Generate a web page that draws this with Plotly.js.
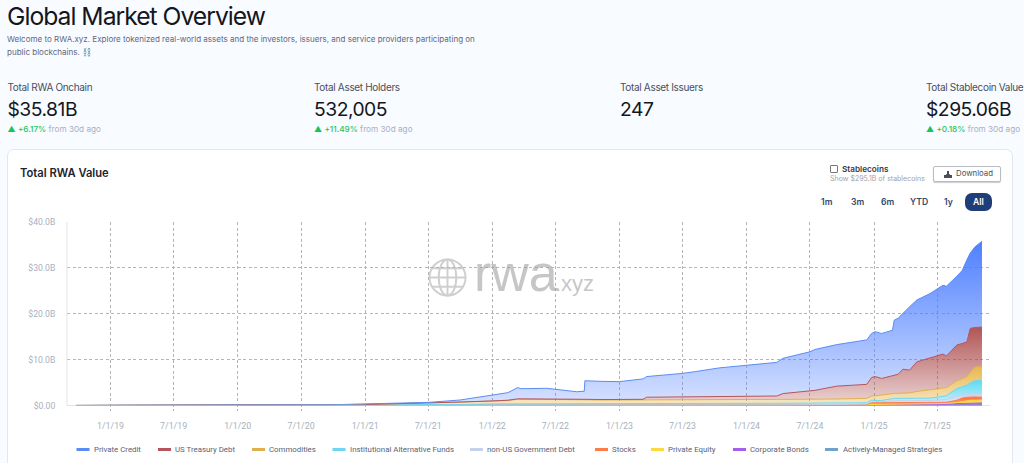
<!DOCTYPE html>
<html><head><meta charset="utf-8">
<script src="https://cdn.plot.ly/plotly-3.0.1.min.js"></script>
<style>
html,body{margin:0;padding:0;width:1024px;height:463px;overflow:hidden;background:#f8fbff;font-family:Inter,sans-serif;}
.a{position:absolute;white-space:nowrap;}
#card{position:absolute;left:7px;top:149px;width:1006px;height:340px;background:#fff;border:1px solid #e3e6ec;border-radius:7px;box-sizing:border-box;}
#chart{position:absolute;left:0;top:0;width:1024px;height:463px;}
.lab{font-size:10px;color:#4a4f5c;top:81px;letter-spacing:-.33px;}
.val{font-size:19.3px;color:#14161c;top:96.500px;letter-spacing:-.5px;}
.chg{font-size:8.2px;top:123.500px;color:#a9afbf;}
.chg b{font-weight:500;color:#22c55e;}
.chg i{font-style:normal;color:#16c55a;font-size:8px;}
.rb{font-size:8.6px;font-weight:600;color:#33466e;top:197px;}
</style></head><body>
<div id="card"></div>
<div class="a" style="left:7px;top:0px;font-size:24.7px;letter-spacing:-1px;color:#14161c;line-height:32px;">Global Market Overview</div>
<div class="a" style="left:7px;top:33px;font-size:8.03px;color:#5f6880;line-height:13px;">Welcome to RWA.xyz. Explore tokenized real-world assets and the investors, issuers, and service providers participating on<br>public blockchains. ⛓️</div>
<div class="a lab" style="left:7.500px">Total RWA Onchain</div><div class="a val" style="left:7.500px">$35.81B</div><div class="a chg" style="left:7.500px"><i>▲</i> <b>+6.17%</b> from 30d ago</div>
<div class="a lab" style="left:314px">Total Asset Holders</div><div class="a val" style="left:314px">532,005</div><div class="a chg" style="left:314px"><i>▲</i> <b>+11.49%</b> from 30d ago</div>
<div class="a lab" style="left:620px">Total Asset Issuers</div><div class="a val" style="left:620px">247</div>
<div class="a lab" style="left:926px">Total Stablecoin Value</div><div class="a val" style="left:926px">$295.06B</div><div class="a chg" style="left:926px"><i>▲</i> <b>+0.18%</b> from 30d ago</div>
<div class="a" style="left:830px;top:165px;width:6px;height:6px;border:1px solid #777;border-radius:1px;background:#fff;"></div>
<div class="a" style="left:842px;top:164px;font-size:8.2px;font-weight:600;color:#33384a;">Stablecoins</div>
<div class="a" style="left:830px;top:174px;font-size:7px;color:#a0a3ab;">Show $295.1B of stablecoins</div>
<div class="a" style="left:933px;top:166px;width:68px;height:16px;box-sizing:border-box;border:1px solid #b9bcc4;border-radius:2px;background:#fff;box-shadow:0 1px 1px #ccc;font-size:7.8px;color:#4a4f5c;line-height:13px;padding-left:22px;">Download<svg style="position:absolute;left:10px;top:3px" width="8" height="8" viewBox="0 0 8 8"><path d="M0 5h8v3H0z M3 1h2v3h1.500L4 6 1.500 4H3z" fill="#4a4f5c"/></svg></div>
<div class="a rb" style="left:821px">1m</div><div class="a rb" style="left:851px">3m</div><div class="a rb" style="left:881px">6m</div><div class="a rb" style="left:910px">YTD</div><div class="a rb" style="left:944px">1y</div>
<div class="a" style="left:965px;top:193px;width:27px;height:18px;background:#1f3d78;border-radius:7px;color:#fff;font-size:8.6px;font-weight:600;text-align:center;line-height:18px;">All</div>
<div id="chart"></div>
<script>
const dates=['2018-09-24','2019-01-01','2019-07-01','2020-01-01','2020-07-01','2020-10-01','2021-01-01','2021-04-01','2021-07-01','2021-10-01','2022-01-01','2022-01-25','2022-02-15','2022-03-15','2022-03-25','2022-06-06','2022-08-31','2022-09-22','2022-09-24','2022-11-15','2023-01-01','2023-03-10','2023-03-20','2023-07-01','2023-08-01','2023-08-08','2023-10-15','2024-01-01','2024-02-08','2024-03-28','2024-04-15','2024-07-01','2024-07-15','2024-09-16','2024-12-11','2024-12-25','2025-01-04','2025-01-23','2025-02-23','2025-02-28','2025-03-11','2025-03-25','2025-04-13','2025-05-04','2025-06-11','2025-07-18','2025-07-28','2025-08-27','2025-09-11','2025-09-25','2025-10-04','2025-10-18','2025-11-07'];
const N=null;
const privateCredit=[N,N,N,N,N,.02,.12,.15,.15,.45,1.3,1.6,1.65,2.45,2.21,2.25,1.6,1.75,4.05,3.95,3.9,4.45,4.5,5.1,5.25,5.45,6.2,6.73,6.93,7.33,7.7,8.5,8.9,9.05,9.7,9.6,9.8,9.8,9.9,12.0,12.2,12.2,13.8,13.5,14.0,15.0,15.2,15.0,15.9,17.9,16.4,17.6,18.7];
const usTreasuryDebt=[N,N,N,N,N,N,N,N,N,N,.05,.05,.05,.08,.08,.1,.1,.1,.1,.1,.1,.15,.55,.6,.65,.65,.7,.73,.73,.73,1.26,1.83,1.93,2.8,3.05,4.03,4.2,3.6,3.85,3.95,4.15,5.25,4.95,6.45,7.0,7.5,6.9,7.8,7.7,7.6,9.6,8.6,8.65];
const commodities=[N,N,N,.01,.02,.08,.15,.3,.4,.55,.6,.65,.72,.95,.95,.95,.85,.8,.8,.75,.75,.75,.8,.85,.85,.85,.85,.85,.85,.85,.85,.85,.85,.9,.95,.87,1.0,1.2,1.1,1.1,1.1,1.1,1.2,1.5,1.8,1.7,1.75,1.7,1.7,1.85,2.3,3.0,2.9];
const institutionalAltFunds=[.01,.02,.03,.03,.05,.06,.08,.1,.12,.2,.35,.35,.38,.42,.42,.45,.45,.45,.35,.35,.35,.35,.35,.35,.35,.35,.35,.35,.35,.35,.35,.35,.35,.35,.3,.3,.25,.25,.55,.55,.55,.5,.5,.5,.5,.75,.85,1.6,1.8,2.05,2.4,2.8,2.9];
const nonUsGovDebt=[N,N,N,N,N,N,N,N,N,N,N,N,N,N,N,N,N,N,N,N,N,N,N,N,N,N,N,.02,.02,.02,.02,.02,.02,.02,.05,.3,.25,.25,.4,.4,.4,.45,.45,.45,.45,.55,.6,.95,.7,.6,.65,.75,.85];
const stocks=[N,N,N,N,N,N,N,N,N,N,N,N,N,N,N,N,N,N,N,N,N,N,N,N,N,N,N,N,N,N,N,N,N,N,.05,.38,.38,.37,.35,.35,.35,.34,.31,.28,.29,.31,.27,.51,.73,.74,.72,.69,.6];
const privateEquity=[N,N,N,N,N,N,N,N,N,N,N,N,N,N,N,N,N,N,N,N,N,N,N,N,N,N,N,N,N,N,N,N,N,N,N,N,N,N,.02,.02,.02,.03,.03,.04,.05,.06,.07,.25,.45,.6,.65,.65,.65];
const corporateBonds=[N,N,N,N,N,N,N,N,N,N,N,N,N,N,N,N,N,N,.1,.1,.1,.1,.1,.1,.1,.1,.1,.12,.12,.12,.12,.15,.15,.15,.18,.2,.2,.2,.2,.2,.2,.2,.22,.24,.26,.28,.3,.32,.35,.38,.4,.42,.45];
const activelyManaged=[N,N,N,N,N,N,N,N,N,N,N,N,N,N,N,N,N,N,N,N,N,N,N,N,N,N,N,N,N,N,N,N,N,N,.02,.02,.02,.03,.03,.03,.03,.04,.04,.05,.05,.06,.07,.07,.08,.08,.09,.09,.1];
const seriesNames=['Private Credit','US Treasury Debt','Commodities','Institutional Alternative Funds','non-US Government Debt','Stocks','Private Equity','Corporate Bonds','Actively-Managed Strategies'];
const seriesValues=[privateCredit,usTreasuryDebt,commodities,institutionalAltFunds,nonUsGovDebt,stocks,privateEquity,corporateBonds,activelyManaged];
const xTickVals=['2019-01-01','2019-07-01','2020-01-01','2020-07-01','2021-01-01','2021-07-01','2022-01-01','2022-07-01','2023-01-01','2023-07-01','2024-01-01','2024-07-01','2025-01-01','2025-07-01'];
const xTickText=['1/1/19','7/1/19','1/1/20','7/1/20','1/1/21','7/1/21','1/1/22','7/1/22','1/1/23','7/1/23','1/1/24','7/1/24','1/1/25','7/1/25'];
const yTickVals=[0,10,20,30,40];
const yTickText=['$0.00','$10.0B','$20.0B','$30.0B','$40.0B'];

// styles
const lineColors=['#5b8cf5','#b5545c','#e0b04e','#6fd6f2','#c4d2ea','#ff7b4a','#ffd83d','#a85cf0','#6fa3cc'];
const topFill=['rgba(75,125,255,0.98)','rgba(170,70,70,0.92)','rgba(230,180,70,0.95)','rgba(85,215,240,0.95)','rgba(190,205,235,0.9)','rgba(255,110,50,1)','rgba(255,215,50,1)','rgba(168,90,240,1)','rgba(110,160,205,1)'];
const botFill=['rgba(75,125,255,0.22)','rgba(170,70,70,0.22)','rgba(230,180,70,0.3)','rgba(85,215,240,0.3)','rgba(190,205,235,0.4)','rgba(255,110,50,0.6)','rgba(255,215,50,0.7)','rgba(168,90,240,0.9)','rgba(110,160,205,0.9)'];
const legendMarkX=[76.5,158,252,332.5,470,595,651,733,825];
const legendTextX=[92,173.4,267,347.7,485,610.4,666.4,747.7,840.7];

const L=67,R=990,T=222,B=411;
const px=x=>(x-L)/(R-L), py=y=>(B-y)/(B-T);

const traces=seriesNames.map((n,i)=>({
  type:'scatter',mode:'lines',name:n,x:dates,y:seriesValues[i],stackgroup:'one',stackgaps:'infer zero',
  line:{color:lineColors[i],width:1},
  fillgradient:{type:'vertical',colorscale:[[0,botFill[i]],[1,topFill[i]]]},
  hovertemplate:'%{x}: $%{y}B<extra>'+n+'</extra>'
})).reverse();
// early baseline, where only the alternative funds existed: keep its line on top of the empty series
traces.push({type:'scatter',mode:'lines',x:dates.slice(0,4),y:institutionalAltFunds.slice(0,4),line:{color:'#6fd6f2',width:1},hoverinfo:'skip',showlegend:false});
traces.push({type:'scatter',mode:'lines',x:dates.slice(3,7),y:institutionalAltFunds.slice(3,7),line:{color:'#9cc0aa',width:1},hoverinfo:'skip',showlegend:false});

const anns=seriesNames.map((n,i)=>({xref:'paper',yref:'paper',x:px(legendTextX[i]),y:py(449.5),xanchor:'left',yanchor:'middle',showarrow:false,align:'left',text:n,font:{family:'Roboto, sans-serif',size:7.85,color:'#5a6272'}}));
anns.push({xref:'paper',yref:'paper',x:px(471.5),y:py(304),xanchor:'left',yanchor:'bottom',showarrow:false,text:'rwa',font:{family:'Liberation Sans, sans-serif',size:52,color:'rgba(160,160,160,0.6)'}});
anns.push({xref:'paper',yref:'paper',x:px(553),y:py(298),xanchor:'left',yanchor:'bottom',showarrow:false,text:'.xyz',font:{family:'Liberation Sans, sans-serif',size:22,color:'rgba(160,160,160,0.6)'}});

const shapes=seriesNames.map((n,i)=>({type:'line',xref:'paper',yref:'paper',x0:px(legendMarkX[i]),x1:px(legendMarkX[i]+13),y0:py(449.5),y1:py(449.5),line:{color:lineColors[i],width:3}}));
shapes.push({type:'line',xref:'paper',yref:'y',x0:0,x1:0,y0:0,y1:40,line:{color:'#dfe3ea',width:1}});

const globe="data:image/svg+xml;utf8,"+encodeURIComponent('<svg xmlns="http://www.w3.org/2000/svg" viewBox="0 0 40 40"><g fill="none" stroke="#cfcfcf" stroke-width="2"><circle cx="20" cy="20" r="18.500"/><ellipse cx="20" cy="20" rx="9" ry="18.500"/><path d="M20 1.500V38.500M1.500 20H38.500M4 10.500H36M4 29.500H36"/></g></svg>');

const layout={
  width:1024,height:463,autosize:false,showlegend:false,
  paper_bgcolor:'rgba(0,0,0,0)',plot_bgcolor:'rgba(0,0,0,0)',
  margin:{l:L,r:1024-R,t:T,b:463-B,pad:0},
  title:{text:'Total RWA Value',x:20/1024,xanchor:'left',y:1-173/463,yanchor:'middle',font:{family:'Inter, sans-serif',size:11.2,color:'#20242e',weight:600}},
  xaxis:{type:'date',range:['2018-08-29','2025-11-30'],tickmode:'array',tickvals:xTickVals,ticktext:xTickText,showgrid:true,gridcolor:'#b5b5b5',griddash:'3px,2.5px',gridwidth:1,ticks:'outside',ticklen:6,tickcolor:'rgba(0,0,0,0)',tickfont:{family:'Roboto, sans-serif',size:8.8,color:'#a9b0bd'},zeroline:false,showline:false},
  yaxis:{range:[-1.2,40],tickmode:'array',tickvals:yTickVals,ticktext:yTickText,showgrid:true,gridcolor:'#b5b5b5',griddash:'3px,2.5px',gridwidth:1,ticks:'outside',ticklen:9,tickcolor:'rgba(0,0,0,0)',tickfont:{family:'Roboto, sans-serif',size:8.6,color:'#a9b0bd'},zeroline:true,zerolinecolor:'#dfe3ea',zerolinewidth:1,showline:false},
  annotations:anns,shapes:shapes,
  images:[{source:globe,xref:'paper',yref:'paper',x:px(428),y:py(258),sizex:px(467)-px(428),sizey:py(258)-py(297),xanchor:'left',yanchor:'top',layer:'below',sizing:'stretch'}]
};
Plotly.newPlot('chart',traces,layout,{displayModeBar:false});
</script>
</body></html>
